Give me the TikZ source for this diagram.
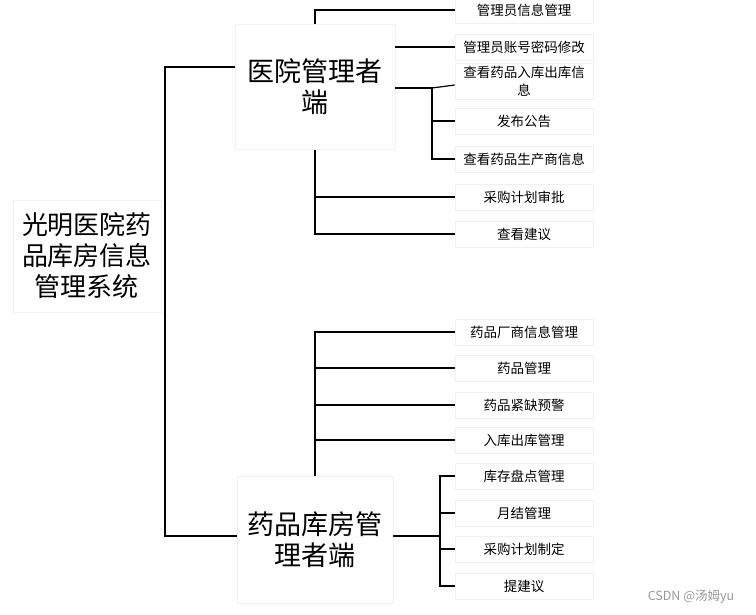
\documentclass[tikz,border=0pt]{standalone}
\usepackage{fontspec}
\newfontfamily\cjk{Noto Sans CJK SC}
\usetikzlibrary{calc}
\begin{document}
\begin{tikzpicture}[x=1pt,y=-1pt,
  box/.style={draw=black!6, line width=0.6pt, fill=white, inner sep=0pt, align=center,
    minimum width=138pt, minimum height=26pt, font=\cjk\fontsize{13.5}{17}\selectfont},
  bigbox/.style={draw=black!5, line width=0.6pt, fill=white, inner sep=0pt, align=center,
    font=\cjk\fontsize{27}{31}\selectfont},
  conn/.style={line width=1.2pt, black}]
\useasboundingbox[fill=white] (0,0) rectangle (756,614);

% root
\node[bigbox, minimum width=148pt, minimum height=112pt, font=\cjk\fontsize{26}{31}\selectfont] (root) at (87,256) {光明医院药\\品库房信息\\管理系统};

% hospital side
\node[bigbox, minimum width=160pt, minimum height=125pt] (hosp) at (315,87) {医院管理者\\端};
\node[box] (a1) at (524,10) {管理员信息管理};
\node[box] (a2) at (524,47) {管理员账号密码修改};
\node[box, minimum height=36pt, font=\cjk\fontsize{13.5}{18}\selectfont] (a3) at (524,81) {查看药品入库出库信\\息};
\node[box] (a4) at (524,121) {发布公告};
\node[box] (a5) at (524,159) {查看药品生产商信息};
\node[box] (a6) at (524,197) {采购计划审批};
\node[box] (a7) at (524,234) {查看建议};

% storage side
\node[bigbox, minimum width=156pt, minimum height=127pt] (stor) at (315,540) {药品库房管\\理者端};
\node[box] (b1) at (524,332) {药品厂商信息管理};
\node[box] (b2) at (524,368) {药品管理};
\node[box] (b3) at (524,405) {药品紧缺预警};
\node[box] (b4) at (524,440) {入库出库管理};
\node[box] (b5) at (524,476) {库存盘点管理};
\node[box] (b6) at (524,513) {月结管理};
\node[box] (b7) at (524,549) {采购计划制定};
\node[box] (b8) at (524,586) {提建议};

% root connectors
\coordinate (rt) at (165,67);
\coordinate (rb) at (165,536);
\draw[conn] (hosp.west |- rt) -- (rt) -- (rb) -- (stor.west |- rb);

% hospital connectors
\draw[conn] (a1.west) -| (hosp.north);
\draw[conn] (hosp.south) |- (a7.west);
\draw[conn] (hosp.south |- a6.west) -- (a6.west);
\draw[conn] (hosp.east |- a2.west) -- (a2.west);
\coordinate (j1) at (432,88);
\draw[conn] (hosp.east |- j1) -- (j1) |- (a5.west);
\draw[conn] (j1 |- a4.west) -- (a4.west);
\draw[conn] (j1) -- ($(a3.west)+(0,4)$);

% storage connectors
\draw[conn] (stor.north) |- (b1.west);
\draw[conn] (stor.north |- b2.west) -- (b2.west);
\draw[conn] (stor.north |- b3.west) -- (b3.west);
\draw[conn] (stor.north |- b4.west) -- (b4.west);
\coordinate (j2) at (440,536);
\draw[conn] (stor.east |- j2) -- (j2);
\draw[conn] (b5.west) -| (j2) |- (b8.west);
\draw[conn] (j2 |- b6.west) -- (b6.west);
\draw[conn] (j2 |- b7.west) -- (b7.west);

% watermark
\node[font=\cjk\fontsize{12.5}{14}\selectfont, text=black!40] (wm) at (691,597) {CSDN @汤姆yu};
\end{tikzpicture}
\end{document}
